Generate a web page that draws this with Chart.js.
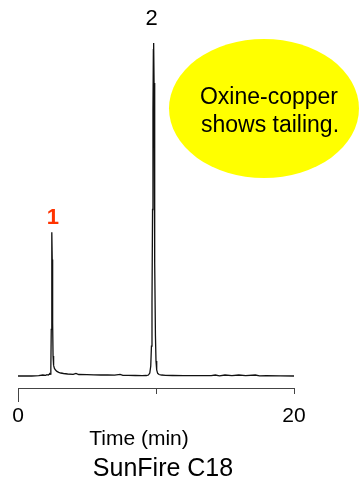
<!DOCTYPE html>
<html>
<head>
<meta charset="utf-8">
<script src="https://cdn.jsdelivr.net/npm/chart.js@4"></script>
<style>
  html, body { margin: 0; padding: 0; background: #fff; }
  #wrap { width: 360px; height: 489px; }
</style>
</head>
<body>
<div id="wrap"><canvas id="chrom" width="360" height="489"></canvas></div>
<script>
// chromatogram trace, SunFire C18
const timeMin = [0, 0.5, 1.0, 1.5, 1.8, 2.0, 2.1, 2.2, 2.25, 2.3, 2.34, 2.38, 2.41, 2.44, 2.46, 2.48, 2.51, 2.54,
  2.58, 2.64, 2.72, 2.82, 2.95, 3.1, 3.3, 3.6, 4.0, 4.2, 4.4, 5.0, 5.5, 6.0, 6.5, 7.0, 7.4, 7.6, 8.0, 8.5, 9.0,
  9.3, 9.45, 9.55, 9.62, 9.67, 9.71, 9.75, 9.78, 9.81, 9.83, 9.86, 9.89, 9.92, 9.96, 10.0, 10.05, 10.12, 10.22,
  10.4, 10.7, 11.2, 12, 13, 14, 14.3, 14.6, 15, 15.5, 16, 16.5, 17.2, 17.5, 18, 19, 20];
const signal = [0, 0.05, 0, 0.1, 0.3, 0.2, 0.4, 0.3, 0.5, 0.7, 0.6, 2.5, 14, 36, 43.2, 35, 16, 6,
  3.2, 2.3, 1.8, 1.4, 1.1, 0.9, 0.75, 0.6, 0.5, 0.8, 0.45, 0.4, 0.35, 0.3, 0.3, 0.25, 0.5, 0.2, 0.2, 0.15, 0.1,
  0.15, 0.3, 0.9, 3, 9, 22, 50, 80, 98, 100, 88, 62, 34, 12, 4.5, 1.8, 0.8, 0.45,
  0.3, 0.2, 0.15, 0.1, 0.1, 0.1, 0.3, 0.05, 0.3, 0.1, 0.3, 0.1, 0.3, 0.05, 0.1, 0.05, 0];

const peakLabels = ['1', '2'];
const peakTimes = [2.46, 9.83];
const peakHeights = [43.2, 100];
const peakColors = ['#ff3300', '#000000'];

const xTicks = [0, 10, 20];
const noteLines = ['Oxine-copper', 'shows tailing.'];
const xTitle = 'Time (min)';
const columnName = 'SunFire C18';

const FONT = '"Liberation Sans", Arial, Helvetica, sans-serif';

const extras = {
  id: 'extras',
  afterDraw(chart) {
    const ctx = chart.ctx;
    const xs = chart.scales.x, ys = chart.scales.y;
    const area = chart.chartArea;
    ctx.save();

    // longer tick at zero
    ctx.strokeStyle = '#444';
    ctx.lineWidth = 1;
    ctx.beginPath();
    const x0 = Math.round(xs.getPixelForValue(0)) + 0.5;
    ctx.moveTo(x0, area.bottom);
    ctx.lineTo(x0, area.bottom + 14);
    ctx.stroke();

    // peak numbers
    ctx.textAlign = 'center';
    ctx.textBaseline = 'alphabetic';
    peakLabels.forEach((lab, i) => {
      ctx.font = (i === 0 ? 'bold ' : '') + '22px ' + FONT;
      ctx.fillStyle = peakColors[i];
      const px = xs.getPixelForValue(peakTimes[i]) + (i === 0 ? 1 : -2);
      const py = ys.getPixelForValue(peakHeights[i]) - (i === 0 ? 8 : 18);
      ctx.fillText(lab, px, py);
    });

    // yellow note
    ctx.fillStyle = '#ffff00';
    ctx.beginPath();
    ctx.ellipse(264, 108.5, 95, 69.5, 0, 0, Math.PI * 2);
    ctx.fill();
    ctx.fillStyle = '#000';
    ctx.font = '23px ' + FONT;
    ctx.fillText(noteLines[0], 269, 104);
    ctx.fillText(noteLines[1], 270, 132);

    // axis title and column name
    ctx.font = '21px ' + FONT;
    ctx.fillText(xTitle, 139, 445);
    ctx.font = '25px ' + FONT;
    ctx.fillText(columnName, 163, 476);
    ctx.restore();
  }
};

new Chart(document.getElementById('chrom'), {
  type: 'line',
  data: {
    datasets: [{
      data: timeMin.map((t, i) => ({ x: t, y: signal[i] })),
      borderColor: '#111',
      borderWidth: 1.3,
      pointRadius: 0,
      tension: 0,
      fill: false
    }]
  },
  options: {
    responsive: false,
    animation: false,
    devicePixelRatio: 1,
    layout: { padding: { top: 43, left: 18, right: 66, bottom: 41 } },
    plugins: { legend: { display: false }, tooltip: { enabled: false }, title: { display: false } },
    scales: {
      x: {
        type: 'linear',
        min: 0,
        max: 20,
        afterBuildTicks: s => { s.ticks = xTicks.map(v => ({ value: v })); },
        afterFit: s => { s.height = 60; },
        ticks: {
          callback: v => (v === 10 ? '' : v),
          color: '#000',
          font: { family: FONT, size: 21 },
          padding: 10,
          maxRotation: 0
        },
        grid: { drawOnChartArea: false, tickLength: 6, color: '#444' },
        border: { color: '#444', width: 1 }
      },
      y: { display: false, min: -3.6, max: 100 }
    }
  },
  plugins: [extras]
});
</script>
</body>
</html>
